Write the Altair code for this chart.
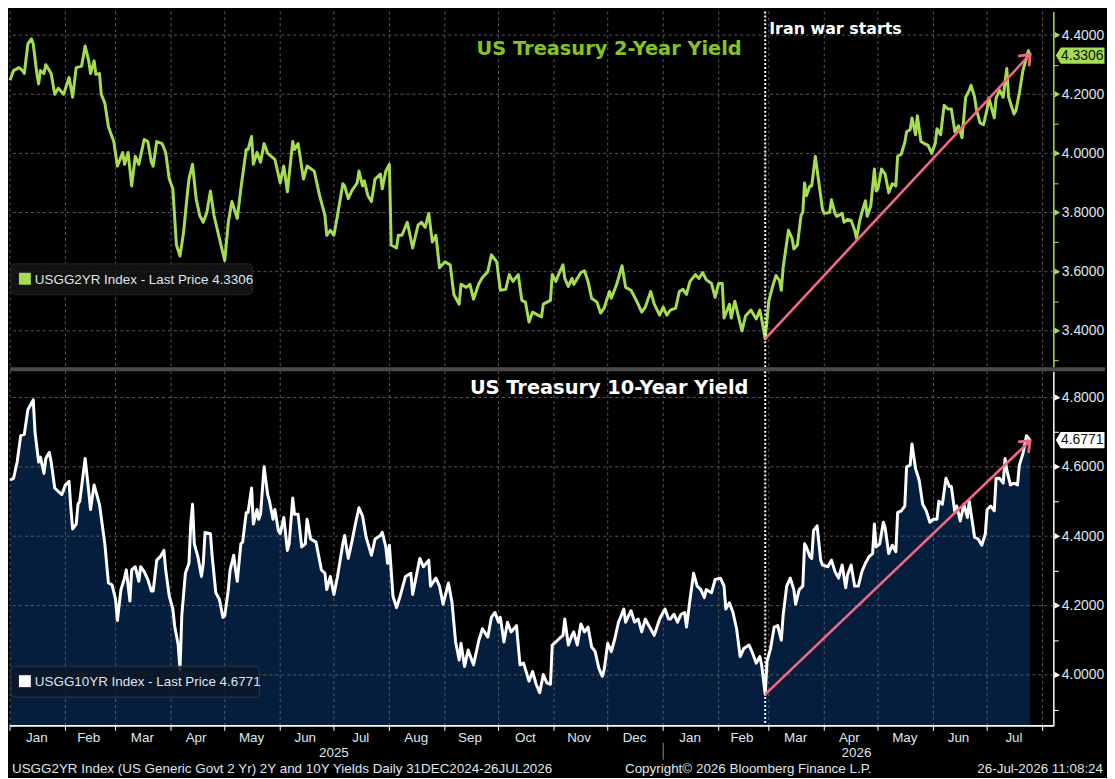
import altair as alt
import pandas as pd

# ---------------- data ----------------
BASE_DATE = "2025-01-01"   # day offsets below count from this date

two_days = [0,2,5,7,8,10,12,13,15,16,17,19,20,23,25,27,30,33,35,37,40,42,44,45,47,48,50,51,53,55,58,60,63,64,66,68,70,72,75,77,79,80,82,85,87,89,91,93,95,97,99,100,102,104,106,108,110,112,114,117,120,122,124,127,129,132,133,135,136,138,140,142,144,146,148,151,153,155,158,159,161,164,166,170,173,176,177,179,181,183,186,187,189,191,194,195,197,198,200,202,204,207,208,210,212,213,216,217,219,222,225,228,230,232,234,236,238,240,243,246,248,251,252,255,257,259,262,264,267,269,272,274,277,279,281,284,286,288,290,292,295,297,298,302,303,305,307,309,310,312,314,315,317,319,321,323,325,328,330,332,335,336,339,342,344,347,350,353,355,358,360,363,365,367,369,372,374,376,378,380,383,385,387,389,392,394,396,398,399,402,403,405,409,411,414,417,419,420,422,424,426,428,430,431,432,435,437,438,440,442,443,444,445,447,448,450,452,454,455,458,459,461,462,465,466,468,470,472,473,475,476,478,479,481,483,484,485,487,489,491,493,495,496,498,500,501,503,504,506,507,509,511,513,515,517,518,520,522,524,526,528,530,532,534,536,537,539,540,542,544,546,547,550,551,553,555,557,558,561,562,564,566,568,569,570]
two_vals = [4.247,4.28,4.29,4.28,4.27,4.37,4.387,4.37,4.27,4.235,4.28,4.27,4.30,4.27,4.20,4.22,4.20,4.257,4.19,4.29,4.295,4.363,4.313,4.27,4.313,4.267,4.27,4.20,4.17,4.09,4.04,3.957,4.003,3.963,4.003,3.89,3.99,3.963,4.047,4.04,3.97,3.957,4.04,4.033,4.003,3.913,3.88,3.69,3.653,3.733,3.857,3.913,3.963,3.847,3.79,3.767,3.80,3.873,3.79,3.713,3.637,3.767,3.837,3.78,3.88,4.013,4.013,4.057,3.963,4.003,3.97,4.033,4.0,3.99,3.98,3.90,3.957,3.87,4.04,4.013,4.033,3.913,3.957,3.94,3.857,3.79,3.723,3.74,3.723,3.79,3.897,3.89,3.847,3.873,3.90,3.94,3.89,3.907,3.857,3.837,3.913,3.93,3.88,3.94,3.963,3.69,3.68,3.723,3.723,3.767,3.68,3.757,3.767,3.75,3.797,3.70,3.723,3.613,3.633,3.623,3.523,3.49,3.557,3.547,3.557,3.507,3.56,3.58,3.60,3.657,3.633,3.537,3.54,3.59,3.567,3.59,3.503,3.497,3.43,3.463,3.453,3.447,3.49,3.503,3.59,3.567,3.597,3.623,3.577,3.55,3.577,3.557,3.577,3.597,3.603,3.567,3.51,3.497,3.46,3.477,3.533,3.51,3.557,3.62,3.547,3.537,3.503,3.463,3.48,3.533,3.49,3.453,3.48,3.453,3.47,3.477,3.533,3.54,3.523,3.567,3.59,3.577,3.597,3.573,3.56,3.513,3.56,3.56,3.443,3.49,3.443,3.50,3.40,3.45,3.47,3.44,3.47,3.44,3.373,3.50,3.547,3.587,3.57,3.537,3.613,3.74,3.713,3.677,3.69,3.79,3.80,3.90,3.857,3.89,3.89,3.99,3.90,3.81,3.797,3.80,3.843,3.797,3.787,3.797,3.767,3.777,3.773,3.74,3.713,3.777,3.80,3.84,3.787,3.823,3.947,3.873,3.88,3.947,3.93,3.867,3.897,3.89,3.99,3.997,4.037,4.073,4.08,4.12,4.063,4.127,4.04,4.033,4.027,4.00,4.033,4.083,4.063,4.163,4.15,4.15,4.073,4.093,4.053,4.19,4.213,4.23,4.19,4.15,4.103,4.097,4.15,4.187,4.12,4.187,4.213,4.19,4.287,4.19,4.133,4.143,4.203,4.28,4.323,4.347,4.3306]

ten_days = [0,2,4,6,8,10,13,14,16,17,19,20,22,23,25,27,29,31,33,34,35,37,38,39,42,44,45,47,48,50,52,53,55,57,59,60,62,64,65,67,68,70,72,73,75,77,79,80,82,84,86,87,89,91,92,94,95,96,98,100,101,102,103,105,107,108,109,112,113,115,117,119,120,122,123,125,126,127,129,130,132,133,135,136,138,139,140,142,144,145,147,148,150,151,153,155,156,158,159,161,163,165,166,168,171,174,176,177,179,181,183,186,187,189,191,193,195,197,199,202,204,207,208,210,211,212,214,216,218,221,224,225,227,229,231,234,235,238,240,242,245,247,249,251,252,254,256,259,262,264,267,269,271,273,274,276,278,280,283,285,287,290,292,294,296,298,300,302,303,305,307,309,310,312,314,315,317,319,321,323,325,327,329,331,332,334,336,338,340,343,344,347,349,351,353,355,357,358,360,363,366,368,369,371,373,375,377,378,380,382,384,386,388,389,392,394,397,399,400,402,404,406,408,410,413,415,417,419,420,422,423,425,427,429,431,432,434,436,438,439,441,443,444,445,447,448,449,451,453,454,457,459,461,463,465,467,468,470,472,474,476,478,480,482,483,484,486,488,489,491,493,495,496,498,500,501,503,504,506,508,510,512,514,516,518,519,521,523,525,526,528,529,531,533,535,536,539,541,543,545,546,548,550,551,553,555,556,557,559,561,563,564,566,568,570]
ten_vals = [4.562,4.567,4.614,4.69,4.694,4.765,4.793,4.699,4.614,4.628,4.581,4.624,4.642,4.614,4.539,4.529,4.52,4.548,4.558,4.482,4.421,4.435,4.492,4.501,4.624,4.529,4.477,4.548,4.529,4.492,4.416,4.378,4.265,4.26,4.218,4.157,4.246,4.279,4.303,4.213,4.303,4.312,4.27,4.312,4.298,4.275,4.242,4.242,4.331,4.341,4.359,4.303,4.227,4.19,4.142,4.086,4.015,4.171,4.293,4.322,4.435,4.492,4.378,4.341,4.284,4.322,4.411,4.407,4.341,4.237,4.218,4.166,4.171,4.246,4.303,4.345,4.303,4.27,4.378,4.383,4.468,4.468,4.539,4.435,4.477,4.449,4.463,4.6,4.52,4.501,4.449,4.477,4.416,4.407,4.454,4.359,4.378,4.51,4.463,4.463,4.369,4.378,4.449,4.392,4.383,4.303,4.293,4.246,4.284,4.232,4.284,4.378,4.402,4.336,4.383,4.435,4.482,4.458,4.397,4.345,4.392,4.402,4.411,4.369,4.322,4.374,4.227,4.194,4.227,4.284,4.293,4.232,4.284,4.336,4.312,4.331,4.256,4.279,4.256,4.204,4.265,4.208,4.095,4.043,4.091,4.024,4.072,4.029,4.1,4.133,4.109,4.166,4.18,4.152,4.166,4.095,4.152,4.124,4.142,4.029,4.034,3.982,4.01,3.973,3.949,4.001,3.977,3.973,4.086,4.095,4.105,4.114,4.161,4.086,4.114,4.124,4.086,4.147,4.124,4.138,4.081,4.067,4.02,3.996,4.015,4.091,4.067,4.105,4.152,4.19,4.152,4.185,4.152,4.161,4.124,4.161,4.142,4.133,4.114,4.161,4.19,4.161,4.161,4.175,4.152,4.175,4.18,4.138,4.218,4.293,4.256,4.246,4.223,4.246,4.237,4.275,4.279,4.256,4.19,4.208,4.18,4.133,4.053,4.076,4.086,4.062,4.034,4.053,4.029,3.944,4.039,4.076,4.138,4.142,4.1,4.171,4.256,4.279,4.246,4.204,4.246,4.256,4.378,4.369,4.341,4.336,4.416,4.43,4.331,4.317,4.312,4.331,4.298,4.279,4.317,4.251,4.289,4.317,4.256,4.256,4.298,4.322,4.341,4.35,4.435,4.369,4.378,4.44,4.425,4.35,4.374,4.355,4.468,4.473,4.487,4.6,4.605,4.666,4.595,4.562,4.492,4.473,4.44,4.449,4.449,4.501,4.492,4.567,4.543,4.543,4.468,4.487,4.444,4.492,4.454,4.501,4.397,4.392,4.374,4.407,4.477,4.487,4.473,4.567,4.567,4.553,4.624,4.591,4.548,4.553,4.548,4.605,4.638,4.69,4.6771]

month_starts = ["2025-01-01","2025-02-01","2025-03-01","2025-04-01","2025-05-01","2025-06-01",
                "2025-07-01","2025-08-01","2025-09-01","2025-10-01","2025-11-01","2025-12-01",
                "2026-01-01","2026-02-01","2026-03-01","2026-04-01","2026-05-01","2026-06-01",
                "2026-07-01","2026-08-01"]
month_mids = ["2025-01-16","2025-02-14","2025-03-16","2025-04-15","2025-05-16","2025-06-15",
              "2025-07-16","2025-08-16","2025-09-15","2025-10-16","2025-11-15","2025-12-16",
              "2026-01-16","2026-02-14","2026-03-16","2026-04-15","2026-05-16","2026-06-15",
              "2026-07-16"]
month_labels = ["Jan","Feb","Mar","Apr","May","Jun","Jul","Aug","Sep","Oct","Nov","Dec",
                "Jan","Feb","Mar","Apr","May","Jun","Jul"]
year_dates = ["2025-07-01", "2026-04-19"]
year_labels = ["2025", "2026"]
year_break = ["2026-01-01"]

two_ticks = [3.3,3.4,3.5,3.6,3.7,3.8,3.9,4.0,4.1,4.2,4.3,4.4]
two_major = [3.4,3.6,3.8,4.0,4.2,4.4]
ten_ticks = [3.9,4.0,4.1,4.2,4.3,4.4,4.5,4.6,4.7,4.8]
ten_major = [4.0,4.2,4.4,4.6,4.8]

war_date = ["2026-02-27"]
arrow_dates = ["2026-02-27", "2026-07-25"]
arrow_two = [3.373, 4.335]
arrow_ten = [3.944, 4.675]
last_two = 4.3306
last_ten = 4.6771

# ---------------- styling ----------------
W, H1, H2 = 1050, 358, 357
GREEN = "#a6dd50"
TITLE_GREEN = "#86c41f"
PINK = "#f2687f"
NAVY = "#061e3d"
GRID = "#626262"
LABEL = "#dfe6ee"
FONT = "Liberation Sans"
BOLD = "DejaVu Sans"
CHEVRON = "M-0.8,1 L0,0 L0.8,1"
TAG = "M-1,0 L-0.8,-0.33 L1,-0.33 L1,0.33 L-0.8,0.33 Z"

base = pd.Timestamp(BASE_DATE)
def to_dates(days):
    return [(base + pd.Timedelta(days=int(d))).strftime("%Y-%m-%d") for d in days]

two_df = pd.DataFrame({"date": to_dates(two_days), "v": two_vals})
ten_df = pd.DataFrame({"date": to_dates(ten_days), "v": ten_vals})
months_df = pd.DataFrame({"date": month_starts})
mids_df = pd.DataFrame({"date": month_mids, "lab": month_labels})
years_df = pd.DataFrame({"date": year_dates, "lab": year_labels})
ybreak_df = pd.DataFrame({"date": year_break})
war_df = pd.DataFrame({"date": war_date})
one = pd.DataFrame({"k": [0]})

xs = alt.Scale(type="utc", domain=[alt.DateTime(year=2025, month=1, date=1, utc=True),
                                   alt.DateTime(year=2026, month=8, date=7, utc=True)])
X = alt.X("date:T", scale=xs, axis=None)


def panel(df, major, ticks, domain, line_color, axis_color, area, title, title_color,
          legend_text, legend_box, arrow_vals, last_val, tag_color, angle,
          box_fill, box_stroke, title_y, legend_y):
    ys = alt.Scale(domain=domain, zero=False, nice=False)
    axis = alt.Axis(orient="right", values=ticks,
                    labelExpr="round(datum.value*10)%2==0 ? format(datum.value, '.4f') : ''",
                    grid=False, domainColor=axis_color, domainWidth=1.5,
                    tickColor=axis_color, tickSize=5, labelColor=LABEL, labelFont=FONT,
                    labelFontSize=14, labelPadding=3, title=None, labelOverlap=False)

    def Y(field="v:Q"):
        return alt.Y(field, scale=ys, axis=axis)

    major_df = pd.DataFrame({"v": major})
    layers = []
    if area:
        layers.append(alt.Chart(df).mark_area(color=NAVY, opacity=1).encode(
            x=X, y=Y(), y2=alt.datum(domain[0])))
    layers.append(alt.Chart(months_df).mark_rule(color=GRID, strokeDash=[3, 3], strokeWidth=1,
                                                 opacity=0.9).encode(x=X))
    layers.append(alt.Chart(major_df).mark_rule(color=GRID, strokeDash=[3, 3], strokeWidth=1,
                                                opacity=0.9).encode(y=Y()))
    layers.append(alt.Chart(df).mark_line(color=line_color, strokeWidth=3,
                                          strokeJoin="round").encode(x=X, y=Y()))
    layers.append(alt.Chart(war_df).mark_rule(color="white", strokeDash=[2, 2],
                                              strokeWidth=2).encode(x=X))
    arr_df = pd.DataFrame({"date": [arrow_dates[0]], "date2": [arrow_dates[1]],
                           "v": [arrow_vals[0]], "v2": [arrow_vals[1]]})
    layers.append(alt.Chart(arr_df).mark_rule(color=PINK, strokeWidth=2.6).encode(
        x=X, x2=alt.X2("date2:T"), y=Y(), y2=alt.Y2("v2:Q")))
    head_df = pd.DataFrame({"date": [arrow_dates[1]], "v": [arrow_vals[1]]})
    layers.append(alt.Chart(head_df).mark_point(shape=CHEVRON, filled=False, stroke=PINK,
                                                strokeWidth=2.8, size=360, angle=angle,
                                                opacity=1, strokeJoin="miter").encode(
        x=X, y=Y()))
    # legend box
    bx0, bx1 = legend_box
    layers.append(alt.Chart(one).mark_rect(fill=box_fill, stroke=box_stroke, cornerRadius=4,
                                           fillOpacity=0.85).encode(
        x=alt.value(bx0), x2=alt.value(bx1), y=alt.value(legend_y - 15),
        y2=alt.value(legend_y + 16)))
    layers.append(alt.Chart(one).mark_rect(fill=line_color).encode(
        x=alt.value(9), x2=alt.value(21), y=alt.value(legend_y - 6), y2=alt.value(legend_y + 6)))
    layers.append(alt.Chart(one).mark_text(align="left", baseline="middle", font=FONT,
                                           fontSize=13.5, color=LABEL).encode(
        x=alt.value(25), y=alt.value(legend_y + 1), text=alt.value(legend_text)))
    # title
    layers.append(alt.Chart(one).mark_text(align="center", baseline="middle", font=BOLD,
                                           fontWeight="bold", fontSize=19.5,
                                           color=title_color).encode(
        x=alt.value(603), y=alt.value(title_y), text=alt.value(title)))
    # axis triangles
    layers.append(alt.Chart(major_df).mark_point(shape="triangle-right", filled=True,
                                                 color=axis_color, size=42, opacity=1).encode(
        x=alt.value(W + 4), y=Y()))
    # last value tag
    tag_df = pd.DataFrame({"v": [last_val], "t": [f"{last_val:.4f}"]})
    layers.append(alt.Chart(tag_df).mark_point(shape=TAG, filled=True, fill=tag_color,
                                               size=2401, opacity=1, strokeWidth=0).encode(
        x=alt.value(W + 27), y=Y()))
    layers.append(alt.Chart(tag_df).mark_text(align="center", baseline="middle", font=FONT,
                                              fontSize=14, color="#111111").encode(
        x=alt.value(W + 29), y=Y(), text="t:N"))
    return layers


top_layers = panel(two_df, two_major, two_ticks, [3.277, 4.48], GREEN, GREEN, False,
                   "US Treasury 2-Year Yield", TITLE_GREEN,
                   "USGG2YR Index - Last Price 4.3306", (1, 244), arrow_two, last_two,
                   GREEN, 43, "#151515", "#262626", 38, 269)
top_layers.append(alt.Chart(war_df).mark_text(align="left", baseline="middle", dx=4, font=BOLD,
                                              fontWeight="bold", fontSize=16,
                                              color="white").encode(
    x=X, y=alt.value(18), text=alt.value("Iran war starts")))
top_layers.append(alt.Chart(one).mark_rule(color="#4a4a4a", strokeWidth=4).encode(
    x=alt.value(0), x2=alt.value(W + 52), y=alt.value(H1 + 2)))
top = alt.layer(*top_layers).properties(width=W, height=H1)

bot_layers = panel(ten_df, ten_major, ten_ticks, [3.853, 4.876], "white", "white", True,
                   "US Treasury 10-Year Yield", "white",
                   "USGG10YR Index - Last Price 4.6771", (1, 251), arrow_ten, last_ten,
                   "white", 46, "#0c1727", "#2e3848", 17, 312)
# x axis: baseline, month ticks, labels, years, footer
bot_layers.append(alt.Chart(one).mark_rule(color="white", strokeWidth=2).encode(
    x=alt.value(0), x2=alt.value(W), y=alt.value(H2)))
bot_layers.append(alt.Chart(months_df).mark_rule(color="white", strokeWidth=1).encode(
    x=X, y=alt.value(H2), y2=alt.value(H2 + 5)))
bot_layers.append(alt.Chart(mids_df).mark_text(baseline="middle", font=FONT, fontSize=13.5,
                                               color=LABEL).encode(
    x=X, y=alt.value(H2 + 12), text="lab:N"))
bot_layers.append(alt.Chart(years_df).mark_text(baseline="middle", font=FONT, fontSize=13.5,
                                                color=LABEL).encode(
    x=X, y=alt.value(H2 + 27), text="lab:N"))
bot_layers.append(alt.Chart(ybreak_df).mark_rule(color="#8a8a8a", strokeWidth=1).encode(
    x=X, y=alt.value(H2 + 17), y2=alt.value(H2 + 34)))
bot_layers.append(alt.Chart(one).mark_text(align="left", baseline="middle", font=FONT,
                                           fontSize=13.5, color=LABEL).encode(
    x=alt.value(2), y=alt.value(H2 + 43),
    text=alt.value("USGG2YR Index (US Generic Govt 2 Yr) 2Y and 10Y Yields Daily 31DEC2024-26JUL2026")))
bot_layers.append(alt.Chart(one).mark_text(align="center", baseline="middle", font=FONT,
                                           fontSize=13.5, color=LABEL).encode(
    x=alt.value(743), y=alt.value(H2 + 43),
    text=alt.value("Copyright\u00a9 2026 Bloomberg Finance L.P.")))
bot_layers.append(alt.Chart(one).mark_text(align="right", baseline="middle", font=FONT,
                                           fontSize=13.5, color=LABEL).encode(
    x=alt.value(W + 50), y=alt.value(H2 + 43), text=alt.value("26-Jul-2026 11:08:24")))
bottom = alt.layer(*bot_layers).properties(width=W, height=H2)

chart = alt.vconcat(top, bottom, spacing=4, bounds="flush").properties(
    padding=0
).configure(background="#000000").configure_view(strokeWidth=0)

chart.save("out.html", embed_options={"renderer": "svg", "actions": False})
